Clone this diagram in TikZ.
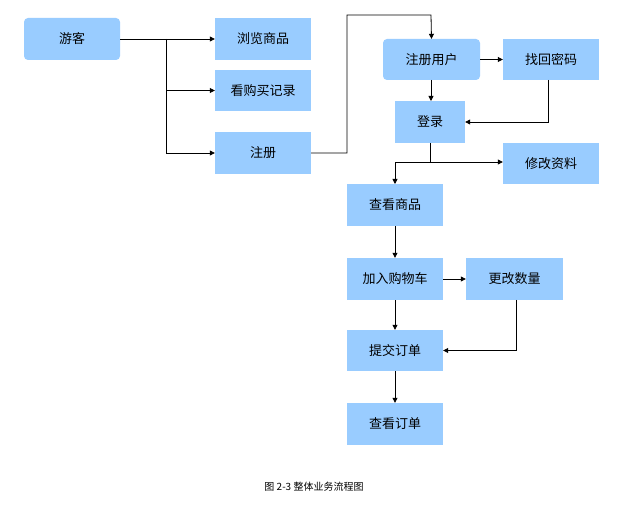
\documentclass[tikz,border=0pt]{standalone}
\usepackage{fontspec}
\newfontfamily\cjk{Noto Sans CJK SC}
\usetikzlibrary{arrows.meta}
\definecolor{boxblue}{HTML}{99CCFF}
\begin{document}
\begin{tikzpicture}[x=1pt,y=-1pt,
  box/.style={fill=boxblue,draw=none,inner sep=0pt,font=\cjk\fontsize{13}{15}\selectfont},
  rbox/.style={box,rounded corners=4pt},
  arr/.style={-{Triangle[length=5pt,width=5pt]},line width=0.8pt}]
\useasboundingbox[fill=white] (0,0) rectangle (629,529);
\newcommand\bx[7]{\node[#1,minimum width=#4-#2,minimum height=#5-#3] (#6) at ({(#2+#4)/2},{(#3+#5)/2}) {#7};}
\bx{rbox}{24}{18}{120}{60}{yk}{游客}
\bx{box}{215}{18}{311}{60}{ll}{浏览商品}
\bx{box}{215}{70}{311}{111}{kg}{看购买记录}
\bx{box}{215}{132}{311}{174}{zc}{注册}
\bx{rbox}{383}{39}{480}{80}{zcyh}{注册用户}
\bx{box}{503}{39}{599}{80}{zh}{找回密码}
\bx{box}{395}{101}{465}{143}{dl}{登录}
\bx{box}{503}{143}{599}{184}{xg}{修改资料}
\bx{box}{347}{184}{443}{226}{ck}{查看商品}
\bx{box}{347}{258}{443}{300}{jr}{加入购物车}
\bx{box}{466}{258}{563}{300}{gg}{更改数量}
\bx{box}{347}{330}{443}{371}{tj}{提交订单}
\bx{box}{347}{403}{443}{445}{cd}{查看订单}
\coordinate (b1) at (166,39);
\coordinate (b2) at (166,153);
\coordinate (s1) at (430,162);
\draw[arr] (yk.east) -- (ll.west);
\draw[line width=0.8pt] (b1) -- (b2);
\draw[arr] (b1 |- kg.west) -- (kg.west);
\draw[arr] (b2) -- (zc.west);
\draw[arr] (zc.east) -- (347,153) -- (347,15) -- (431,15) -- (zcyh.north);
\draw[arr] (zcyh.east) -- (zh.west);
\draw[arr] (431,80) -- (431,101);
\draw[arr] (548,80) -- (548,122) -- (dl.east |- 0,122);
\draw[arr] (430,143) -- (s1) -- (s1 -| xg.west);
\draw[arr] (s1) -- (395,162) -- (395,184);
\draw[arr] (ck.south) -- (jr.north);
\draw[arr] (jr.east) -- (gg.west);
\draw[arr] (jr.south) -- (tj.north);
\draw[arr] (516,300) -- (516,350.5) -- (tj.east);
\draw[arr] (tj.south) -- (cd.north);
\node[font=\cjk\fontsize{10}{12}\selectfont] (cap) at (314,487) {图 2-3 整体业务流程图};
\end{tikzpicture}
\end{document}
